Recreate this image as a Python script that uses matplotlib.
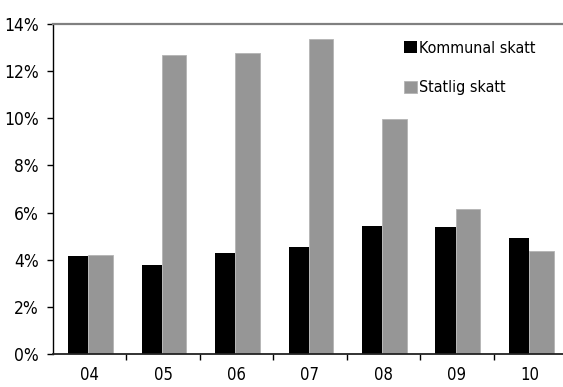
import matplotlib.pyplot as plt
import numpy as np
from matplotlib.ticker import FuncFormatter

plt.rcParams['font.family'] = ['DejaVu Sans']
plt.rcParams['font.stretch'] = 'condensed'

years = ['04', '05', '06', '07', '08', '09', '10']
kommunal = [4.17, 3.76, 4.28, 4.52, 5.43, 5.37, 4.91]
statlig = [4.21, 12.69, 12.76, 13.35, 9.96, 6.15, 4.37]

fig = plt.figure(figsize=(5.63, 3.87), dpi=100)
ax = fig.add_axes([53 / 563, 1 - 354 / 387, 514 / 563, 330 / 387])

x = np.arange(len(years))
ax.bar(x - 0.155, kommunal, width=0.275, color='black', label='Kommunal skatt')
ax.bar(x + 0.15, statlig, width=0.335, color='#969696', edgecolor='#b4b4b4',
       linewidth=0.6, label='Statlig skatt')

ax.set_xlim(-0.5, len(years) - 0.5)
ax.set_ylim(0, 14)
ax.set_yticks(np.arange(0, 15, 2))
ax.yaxis.set_major_formatter(FuncFormatter(lambda v, p: f'{v:.0f}%'))

# category boundaries get the ticks, labels sit in between
ax.set_xticks(np.arange(0.5, len(years) - 1, 1))
ax.set_xticklabels([])
ax.set_xticks(x, minor=True)
ax.set_xticklabels(years, minor=True)
ax.tick_params(axis='x', which='major', direction='out', length=4, width=1)
ax.tick_params(axis='x', which='minor', length=0, pad=9, labelsize=12)
ax.tick_params(axis='y', direction='out', length=4, width=1, pad=6, labelsize=12.5)

ax.spines['right'].set_visible(False)
ax.spines['top'].set_color('#808080')
ax.spines['top'].set_linewidth(1.6)
ax.spines['left'].set_color('black')
ax.spines['left'].set_linewidth(1)
ax.spines['bottom'].set_color('#222222')
ax.spines['bottom'].set_linewidth(1.3)

ax.legend(loc='upper left', bbox_to_anchor=(0.655, 0.993), frameon=False,
          fontsize=11.5, handlelength=0.8, handleheight=0.8,
          handletextpad=0.15, labelspacing=1.55)

plt.savefig('out.png', dpi=100)
